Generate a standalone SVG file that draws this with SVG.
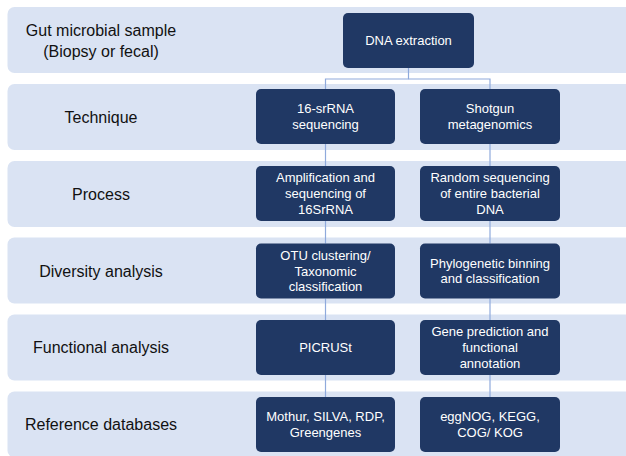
<svg xmlns="http://www.w3.org/2000/svg" width="626" height="456" viewBox="0 0 626 456">
<style>
.band{fill:#dae3f3}
.box{fill:#203864}
.lbl{font-family:"Liberation Sans",Arial,sans-serif;font-size:16px;fill:#111;text-anchor:middle}
.bt{font-family:"Liberation Sans",Arial,sans-serif;font-size:13px;fill:#fff;text-anchor:middle}
.conn{stroke:#8faadc;stroke-width:1.2;fill:none}
</style>
<rect width="626" height="456" fill="#fff"/>
<g id="bands">
<rect class="band" x="7.5" y="7" width="640" height="66" rx="7"/>
<rect class="band" x="7.5" y="84" width="640" height="66" rx="7"/>
<rect class="band" x="7.5" y="161" width="640" height="66" rx="7"/>
<rect class="band" x="7.5" y="237.5" width="640" height="66" rx="7"/>
<rect class="band" x="7.5" y="314.5" width="640" height="66" rx="7"/>
<rect class="band" x="7.5" y="391.5" width="640" height="66" rx="7"/>
</g>
<g id="labels">
<text class="lbl" x="101" y="35.5">Gut microbial sample</text>
<text class="lbl" x="101" y="56.5">(Biopsy or fecal)</text>
<text class="lbl" x="101" y="122.5">Technique</text>
<text class="lbl" x="101" y="199.5">Process</text>
<text class="lbl" x="101" y="276.5">Diversity analysis</text>
<text class="lbl" x="101" y="353">Functional analysis</text>
<text class="lbl" x="101" y="429.5">Reference databases</text>
</g>
<g id="connectors">
<path class="conn" d="M408.5,68 V79 H325.5 V89"/>
<path class="conn" d="M408.5,79 H490 V89"/>
<path class="conn" d="M325.5,144 V166"/>
<path class="conn" d="M490,144 V166"/>
<path class="conn" d="M325.5,221 V243.5"/>
<path class="conn" d="M490,221 V243.5"/>
<path class="conn" d="M325.5,298.5 V320"/>
<path class="conn" d="M490,298.5 V320"/>
<path class="conn" d="M325.5,375 V397"/>
<path class="conn" d="M490,375 V397"/>
</g>
<g id="dna">
<rect class="box" x="343" y="13" width="131" height="55" rx="5"/>
<text class="bt" x="408.5" y="45">DNA extraction</text>
</g>
<g id="s16">
<rect class="box" x="256" y="89" width="139" height="55" rx="5"/>
<text class="bt" x="325.5" y="113.2">16-srRNA</text>
<text class="bt" x="325.5" y="128.9">sequencing</text>
</g>
<g id="shotgun">
<rect class="box" x="420" y="89" width="140" height="55" rx="5"/>
<text class="bt" x="490" y="113.2">Shotgun</text>
<text class="bt" x="490" y="128.9">metagenomics</text>
</g>
<g id="amp">
<rect class="box" x="256" y="166" width="139" height="55" rx="5"/>
<text class="bt" x="325.5" y="182.3">Amplification and</text>
<text class="bt" x="325.5" y="198">sequencing of</text>
<text class="bt" x="325.5" y="213.7">16SrRNA</text>
</g>
<g id="random">
<rect class="box" x="420" y="166" width="140" height="55" rx="5"/>
<text class="bt" x="490" y="182.3">Random sequencing</text>
<text class="bt" x="490" y="198">of entire bacterial</text>
<text class="bt" x="490" y="213.7">DNA</text>
</g>
<g id="otu">
<rect class="box" x="256" y="243.5" width="139" height="55" rx="5"/>
<text class="bt" x="325.5" y="259.8">OTU clustering/</text>
<text class="bt" x="325.5" y="275.5">Taxonomic</text>
<text class="bt" x="325.5" y="291.2">classification</text>
</g>
<g id="phylo">
<rect class="box" x="420" y="243.5" width="140" height="55" rx="5"/>
<text class="bt" x="490" y="267.7">Phylogenetic binning</text>
<text class="bt" x="490" y="283.4">and classification</text>
</g>
<g id="picrust">
<rect class="box" x="256" y="320" width="139" height="55" rx="5"/>
<text class="bt" x="325.5" y="352">PICRUSt</text>
</g>
<g id="gene">
<rect class="box" x="420" y="320" width="140" height="55" rx="5"/>
<text class="bt" x="490" y="336.3">Gene prediction and</text>
<text class="bt" x="490" y="352">functional</text>
<text class="bt" x="490" y="367.7">annotation</text>
</g>
<g id="mothur">
<rect class="box" x="256" y="397" width="139" height="55" rx="5"/>
<text class="bt" x="325.5" y="421.2">Mothur, SILVA, RDP,</text>
<text class="bt" x="325.5" y="436.9">Greengenes</text>
</g>
<g id="eggnog">
<rect class="box" x="420" y="397" width="140" height="55" rx="5"/>
<text class="bt" x="490" y="421.2">eggNOG, KEGG,</text>
<text class="bt" x="490" y="436.9">COG/ KOG</text>
</g>
</svg>
